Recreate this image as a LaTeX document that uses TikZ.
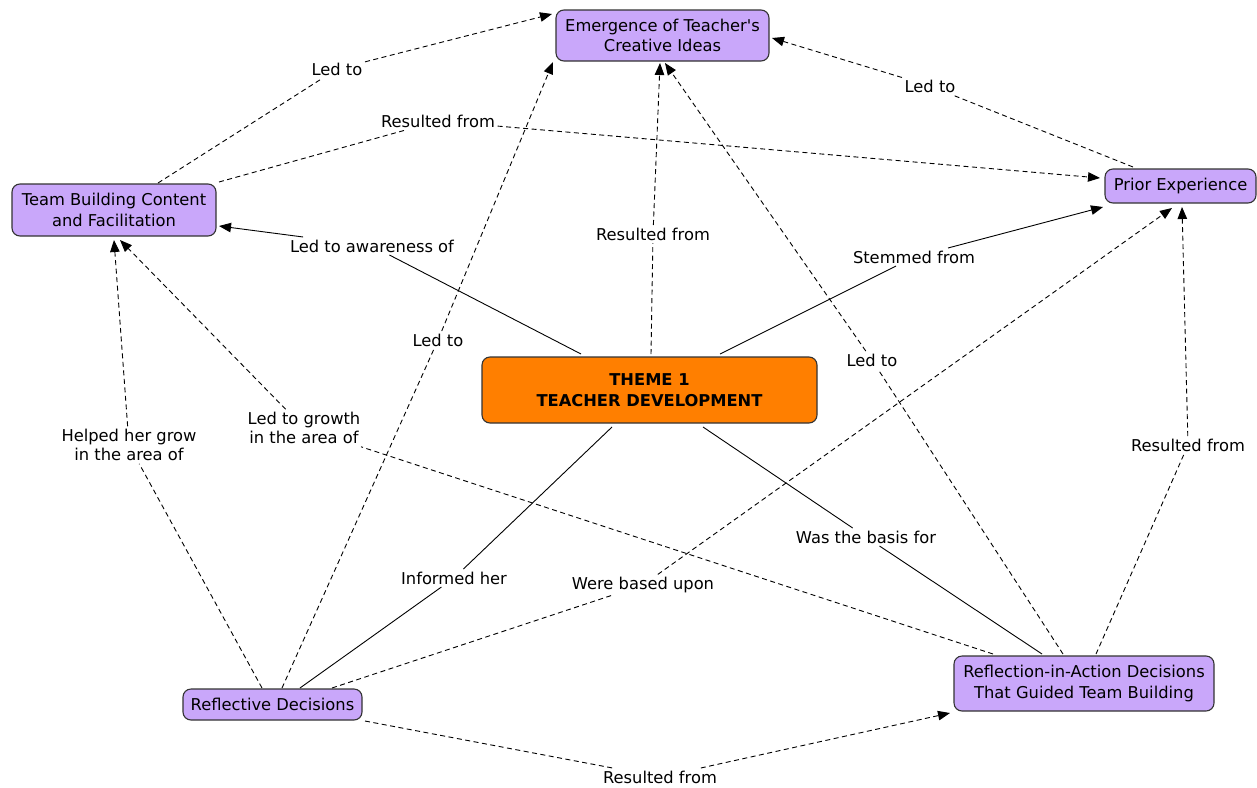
\documentclass[tikz,border=0pt]{standalone}
\usepackage{fontspec}
\setmainfont{DejaVu Sans}[Ligatures=TeXOff]
\usetikzlibrary{arrows.meta,calc}
\definecolor{boxpurple}{HTML}{C9A7FA}
\definecolor{boxorange}{HTML}{FF7F00}
\definecolor{boxedge}{HTML}{333333}
\tikzset{
  cbox/.style={draw=boxedge, line width=1.1pt, fill=boxpurple, rounded corners=8pt,
    align=center, inner sep=0pt, font=\fontsize{16.3}{20.5}\selectfont},
  tbox/.style={cbox, fill=boxorange, font=\bfseries\fontsize{16.3}{20.5}\selectfont},
  lbl/.style={align=center, inner sep=2.5pt, font=\fontsize{16.3}{19.5}\selectfont},
  dsh/.style={line width=0.9pt, dash pattern=on 5pt off 3.5pt},
  sld/.style={line width=0.9pt},
  arr/.style={-{Triangle[length=12pt,width=9.5pt]}}
}
\begin{document}
\begin{tikzpicture}[x=1pt,y=-1pt]
\useasboundingbox (0,0) rectangle (1257,787);
% concept boxes
\node[cbox, minimum width=213pt, minimum height=51pt] (emerg) at (662.5,35.5) {Emergence of Teacher's\\Creative Ideas};
\node[cbox, minimum width=204pt, minimum height=52pt] (tb) at (114,210) {Team Building Content\\and Facilitation};
\node[cbox, minimum width=151pt, minimum height=34pt] (prior) at (1180.5,186) {Prior Experience};
\node[tbox, minimum width=335pt, minimum height=66pt] (theme) at (649.5,390) {THEME 1\\TEACHER DEVELOPMENT};
\node[cbox, minimum width=179pt, minimum height=31pt] (refl) at (272.5,704.5) {Reflective Decisions};
\node[cbox, minimum width=260pt, minimum height=55pt] (ria) at (1084,683.5) {Reflection-in-Action Decisions\\That Guided Team Building};
% linking phrases
\node[lbl] (l1) at (337,69) {Led to};
\node[lbl] (l2) at (438,121) {Resulted from};
\node[lbl] (l3) at (930,86) {Led to};
\node[lbl] (l4) at (372,246) {Led to awareness of};
\node[lbl] (l5) at (653,234) {Resulted from};
\node[lbl] (l6) at (914,257) {Stemmed from};
\node[lbl] (l7) at (438,340) {Led to};
\node[lbl] (l8) at (872,360) {Led to};
\node[lbl] (l9) at (304,428) {Led to growth\\in the area of};
\node[lbl] (l10) at (129,445) {Helped her grow\\in the area of};
\node[lbl] (l11) at (454,578) {Informed her};
\node[lbl] (l12) at (866,537) {Was the basis for};
\node[lbl] (l13) at (643,585) {Were based upon};
\node[lbl] (l14) at (1188,445) {Resulted from};
\node[lbl] (l15) at (660,777) {Resulted from};
% connectors
\draw[dsh] ($(tb)+(44,-27)$) -- (l1);
\draw[dsh,arr] (l1) -- ($(emerg)+(-110.5,-21.5)$);
\draw[dsh] ($(tb)+(105,-28)$) -- (l2);
\draw[dsh,arr] (l2) -- ($(prior)+(-80.5,-8)$);
\draw[dsh] ($(prior)+(-47.5,-19)$) -- (l3);
\draw[dsh,arr] (l3) -- ($(emerg)+(109.5,2.5)$);
\draw[sld] ($(theme)+(-68.5,-36)$) -- (l4);
\draw[sld,arr] (l4) -- ($(tb)+(105,16)$);
\draw[dsh] ($(theme)+(1.5,-36)$) -- (l5);
\draw[dsh,arr] (l5) -- ($(emerg)+(-2.5,27.5)$);
\draw[sld] ($(theme)+(70.5,-36)$) -- (l6);
\draw[sld,arr] (l6) -- ($(prior)+(-77.5,21)$);
\draw[dsh] ($(refl)+(9.5,-16.5)$) -- (l7);
\draw[dsh,arr] (l7) -- ($(emerg)+(-109.5,26.5)$);
\draw[dsh] ($(ria)+(-21,-29.5)$) -- (l8);
\draw[dsh,arr] (l8) -- ($(emerg)+(2.5,27.5)$);
\draw[dsh] ($(ria)+(-91,-29.5)$) -- (l9);
\draw[dsh,arr] (l9) -- ($(tb)+(6,30)$);
\draw[dsh] ($(refl)+(-10.5,-16.5)$) -- (l10);
\draw[dsh,arr] (l10) -- ($(tb)+(0,30)$);
\draw[sld] ($(theme)+(-37.5,37)$) -- (l11);
\draw[sld] (l11) -- ($(refl)+(27.5,-16.5)$);
\draw[sld] ($(theme)+(53.5,37)$) -- (l12);
\draw[sld] (l12) -- ($(ria)+(-42,-29.5)$);
\draw[dsh] ($(refl)+(59.5,-16.5)$) -- (l13);
\draw[dsh,arr] (l13) -- ($(prior)+(-8.5,22)$);
\draw[dsh] ($(ria)+(12,-29.5)$) -- (l14);
\draw[dsh,arr] (l14) -- ($(prior)+(1.5,21)$);
\draw[dsh] ($(refl)+(92.5,16.5)$) -- (l15);
\draw[dsh,arr] (l15) -- ($(ria)+(-134,29.5)$);
\end{tikzpicture}
\end{document}
